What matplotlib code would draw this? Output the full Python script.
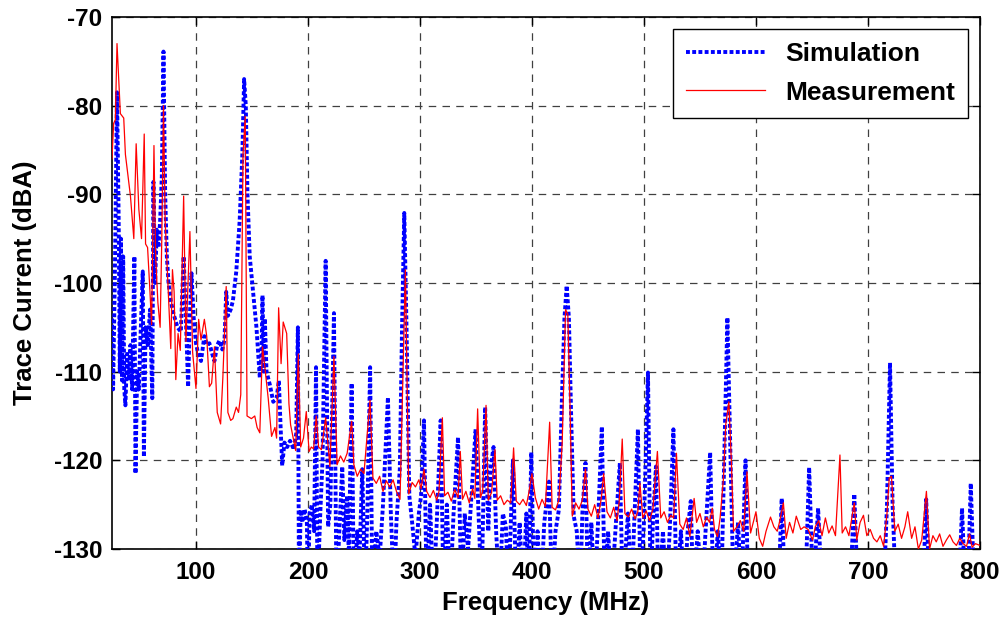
import numpy as np
import matplotlib
matplotlib.use("Agg")
import matplotlib.pyplot as plt

# simulation trace (MHz, dBA) - values below -130 are clipped by the axis
sim_f = [25, 26, 27.5, 29.5, 30.5, 31, 32, 33, 34, 35, 36, 37, 38.5, 40, 41.5, 43, 45, 46,
         47.5, 49, 50.5, 52.5, 53.5, 55, 57, 59, 61, 62, 63.5, 65, 66.5, 68, 69.5, 71, 72.5,
         74, 75.5, 77.5, 80, 83.5, 86.5, 89, 91, 93, 94.5, 96, 98, 100, 102, 104.5, 107.5,
         110, 112, 114.5, 116.5, 119, 121, 123.5, 125.5, 127, 128.5, 131, 133, 136, 139,
         141.4, 143, 144.5, 146, 148, 151, 154, 157, 158.5, 159.4, 160.5, 161.5, 163, 166,
         169, 172, 174, 175.5, 177, 179, 181.5, 184, 187.5, 189.5, 191, 192, 193.5, 195,
         197, 199, 200, 201.5, 203.5, 205.5, 207.2, 208.5, 211, 213, 215.8, 218, 220, 223.2,
         225.5, 228, 230.6, 232.5, 235, 236.5, 239, 241, 244, 246, 248.5, 251, 253, 255.5,
         257.5, 261, 264, 267, 271.4, 274, 276.8, 279, 282, 284, 286, 288, 290.5, 293, 296,
         299, 301, 303.6, 306, 309, 312, 315, 318.5, 321, 324, 327, 330, 334, 337, 340, 343,
         346, 349.7, 352, 355, 358.2, 361, 363, 365.7, 368, 371, 374, 376.7, 379, 383, 386,
         389, 392, 395, 397, 399.4, 402, 405, 408, 411, 415.2, 418, 421, 424, 427, 429, 431,
         433, 435, 437.3, 440, 443, 445, 447.8, 450, 453, 456, 459, 462.4, 465, 468, 471,
         475, 478.5, 481, 485.7, 489, 491, 494.6, 497, 500, 503.6, 506, 508, 510.7, 513, 517,
         520, 523, 526.3, 529, 533, 536, 539, 541.8, 544, 548, 552, 555, 559.1, 562, 566,
         569, 572, 574.5, 577, 580, 584, 587, 590.7, 593, 597, 620, 623, 626, 644, 647.5,
         651, 655.5, 659, 684, 687.8, 691, 714, 717, 719.7, 722, 725, 749, 752, 755, 781, 784,
         787, 789, 791.8, 795, 800]
sim_v = [-104, -112, -100, -78.5, -88, -93, -110, -95, -111, -97, -112, -113.8, -108, -111,
         -107, -112, -97, -121.5, -110, -112, -106, -98.7, -119.6, -105, -107, -103, -113,
         -88.6, -100, -94, -96, -93, -88, -73.9, -90, -97, -100, -102, -103.5, -105, -105.5,
         -97, -104, -111.7, -104, -98.9, -104, -106.8, -108, -108.8, -106, -107, -106.8, -108,
         -108.8, -107, -106.5, -107.5, -106.4, -101, -103.7, -103, -102, -98.7, -93, -85.5,
         -77, -80, -90, -97, -101, -105, -110.7, -108, -101.4, -110, -104, -110, -111.5,
         -113.4, -113, -111, -116, -120.6, -118, -118.5, -117.8, -118.8, -117, -105, -135,
         -125.6, -127, -125.5, -126.8, -135, -126, -125, -128, -109.5, -135, -126, -120,
         -97.5, -127.5, -125, -103.4, -135, -128, -120.7, -129, -124, -131, -111.3, -135,
         -128, -131, -121, -135, -126, -109.5, -135, -128, -131, -125, -112.9, -126, -135,
         -127, -121, -105, -92.1, -105, -124, -127, -131, -126, -124, -115.5, -135, -125,
         -135, -127, -115.5, -135, -125, -135, -126, -117.4, -135, -126, -130, -124, -116.5,
         -125, -135, -114, -128, -121, -118.5, -128, -135, -126, -127.4, -135, -120, -135,
         -127, -135, -126, -135, -119.1, -135, -128, -135, -127, -122.4, -135, -128, -125.6,
         -112, -104, -100.3, -104, -115, -126.3, -128, -135, -126, -120.3, -135, -127, -135,
         -127, -116.2, -135, -128, -135, -127, -120.3, -135, -126, -135, -128, -116.5, -135,
         -127, -110.1, -135, -127, -120.7, -135, -128, -135, -128, -116.5, -135, -128, -135,
         -128, -124.6, -135, -128, -135, -128, -119.1, -135, -128, -135, -118, -103.9, -118,
         -135, -127, -135, -120, -135, -135, -135, -124.3, -135, -135, -120.8, -135, -125.4,
         -135, -135, -123.8, -135, -135, -125, -109, -125, -135, -135, -124.4, -135, -135,
         -125.4, -135, -135, -122.6, -135, -135]

# measured trace (MHz, dBA)
meas_f = [25, 26.5, 28, 29.5, 32.5, 35.5, 37, 41.5, 44.5, 46.6, 49, 51.4, 53.8, 55, 56.8,
          58.6, 60.4, 62.5, 64, 66, 68, 69.5, 71, 72.5, 75.4, 77.5, 79, 80.5, 82, 84, 86, 89,
          91, 94.6, 97, 100, 102.4, 104.5, 107.5, 109.6, 112, 114, 116.5, 119, 122, 124, 127,
          128.5, 131, 133, 136, 138, 140, 142, 144, 145.6, 149.5, 152.5, 154.6, 157, 159.4,
          161.5, 164.5, 167.5, 170.5, 172, 173.8, 176, 177.9, 181, 183, 184.5, 189, 191.4,
          193.5, 196, 198.5, 201, 203, 205, 207.4, 209.5, 212, 215.8, 219.6, 223.2, 226, 229,
          232, 235, 239, 241, 244, 247, 250, 255.4, 258, 261, 264, 267, 270, 273, 276, 279,
          282.2, 287, 290, 293, 296, 299, 301, 303.6, 306, 309, 312, 315, 317, 320, 322, 325,
          328, 331, 334, 336, 338, 341, 344, 347, 349, 351.5, 354, 356, 359, 361, 364, 367,
          369, 372, 375, 378, 381, 383.6, 386, 389, 392, 395, 397, 400, 403, 406, 409, 412,
          415.8, 418, 421, 424, 427, 430, 432, 434, 436, 439, 442, 445, 447.8, 450, 453, 456,
          459, 462, 464, 467, 470, 473, 476, 478, 480.6, 483, 486, 489, 492, 494.5, 496.4,
          499, 502, 505, 508, 512, 515, 518, 521, 524, 526.5, 529, 532, 535, 538, 541, 544.8,
          547, 550, 553, 556, 558.5, 561, 563, 565.7, 568, 571, 573, 575.8, 578, 580, 583,
          586, 589, 592, 595.2, 598, 600, 603, 606, 609, 613, 616, 619, 621, 624.5, 627, 630,
          633, 636, 640, 643, 646.6, 650.5, 653, 656, 659, 662, 665, 668, 671, 675, 677, 680,
          683, 687.8, 690, 693, 696, 699, 702, 705, 708, 711, 714, 717, 719, 721, 724, 727,
          730, 733, 735.5, 739, 742, 745, 748, 752.2, 755, 758, 761, 764, 767, 770, 773, 776,
          779, 782, 785, 788, 790.7, 793, 796, 800]
meas_v = [-86, -82, -81.6, -73, -80.9, -81.4, -85.5, -90.2, -95, -84.3, -91.7, -95, -83.2,
          -95.6, -96, -100.2, -104.7, -84.5, -97.1, -102.2, -105, -95, -80, -93, -101.4,
          -107.4, -98.5, -101, -110.9, -105.7, -107.6, -90.2, -106.6, -94.2, -107.8, -111.9,
          -104.1, -106.4, -104.1, -106, -111.7, -111.3, -107.2, -114.6, -115.9, -110.7,
          -100.4, -114.6, -115.5, -115.3, -114, -114.6, -112.6, -85.5, -81.2, -115, -115.3,
          -115, -116.3, -116.9, -107.2, -109.5, -113, -117.3, -116.3, -117.5, -102.8, -109.1,
          -104.4, -105.7, -113.6, -116, -118.9, -108, -118.5, -117.5, -114.5, -119, -118.5,
          -118.7, -115, -118.5, -118.8, -115.2, -120.7, -108.3, -120.5, -119.5, -120.2,
          -119.2, -115.6, -120.5, -121.8, -121, -121.5, -113.2, -122, -122.6, -121.8, -123.5,
          -122.3, -123, -122.2, -123.5, -124.4, -98.5, -123.8, -122.5, -123, -122.2, -123.2,
          -121, -123.5, -124.2, -123.4, -124.5, -123.5, -115.2, -124, -123.6, -124.6, -123.3,
          -124.2, -119, -124.4, -123.5, -124.8, -123.2, -124.3, -114.2, -124.2, -123.5,
          -113.8, -124.5, -123.6, -118.8, -124.5, -124, -125, -124.5, -124.8, -118.6, -124.6,
          -125, -124.4, -125.1, -123.8, -121.5, -124.2, -125.5, -124.4, -125.2, -115.7,
          -125.3, -125.6, -124.5, -118, -103, -103.5, -114, -126.3, -124.8, -125.5, -124.5,
          -121, -125.5, -126.3, -125, -126.5, -124.2, -121.5, -125.8, -126.5, -125.3, -126.8,
          -124.5, -117.6, -126, -126.4, -125.5, -126.6, -125.8, -122.6, -126.5, -125.7,
          -126.8, -125.5, -119, -126.5, -125.8, -127, -126.2, -126.5, -119.2, -127.2, -127.8,
          -126.5, -128.6, -124.3, -127, -126, -127.5, -126.4, -127, -125.4, -127.8, -128.6,
          -126.5, -122, -116, -113.4, -120, -128, -127.5, -126.8, -128, -121.3, -128.2,
          -126.8, -125.8, -128.8, -129.7, -128, -126.4, -127.5, -128, -127, -124.8, -128.8,
          -127, -128.2, -126.3, -127.8, -127.5, -127.8, -129, -127.5, -126.8, -128.5, -126.5,
          -128.2, -127.4, -128.5, -119.4, -128.2, -127.5, -128.5, -124.8, -129, -127, -126.2,
          -128.5, -127.8, -128.8, -129.2, -128.5, -129.7, -126, -122, -121.8, -128, -127.2,
          -128.8, -127.5, -125.8, -128.8, -127.5, -130, -129, -123.5, -130, -128.5, -129.2,
          -128.3, -129.7, -129, -128.4, -129.2, -129.6, -128.8, -129.4, -129.7, -128.3,
          -129.8, -129.4, -129.6]

x_ticks = [100, 200, 300, 400, 500, 600, 700, 800]
y_ticks = [-130, -120, -110, -100, -90, -80, -70]

plt.rcParams['font.family'] = ['Liberation Sans', 'DejaVu Sans']
plt.rcParams['font.weight'] = 'bold'
plt.rcParams['axes.unicode_minus'] = False

fig = plt.figure(figsize=(10.06, 6.22), dpi=100)
ax = fig.add_axes([0.1113, 0.1174, 0.8628, 0.8553])

ax.plot(sim_f, sim_v, color='#0000ff', linewidth=2.8, linestyle=(0, (1, 0.6)),
        label='Simulation', zorder=3)
ax.plot(meas_f, meas_v, color='#ff0000', linewidth=0.9, label='Measurement', zorder=4)

ax.set_xlim(25, 800)
ax.set_ylim(-130, -70)
ax.set_xticks(x_ticks)
ax.set_yticks(y_ticks)
ax.grid(True, color='0.25', linestyle=(0, (6, 5)), linewidth=0.9)
ax.tick_params(direction='in', top=True, right=True, labelsize=17.5, length=6, width=1)
ax.tick_params(axis='y', pad=7)
ax.tick_params(axis='x', pad=9)
for lab in ax.get_xticklabels() + ax.get_yticklabels():
    lab.set_fontweight('bold')
for s in ax.spines.values():
    s.set_linewidth(1.2)

ax.set_xlabel('Frequency (MHz)', fontsize=18.5, fontweight='bold', labelpad=5)
ax.set_ylabel('Trace Current (dBA)', fontsize=18.5, fontweight='bold', labelpad=12)

leg = ax.legend(loc='upper right', fontsize=19, frameon=True, fancybox=False,
                edgecolor='black', framealpha=1, borderaxespad=0.45, handlelength=3.0,
                handletextpad=0.75, borderpad=0.5, labelspacing=0.55)
leg.get_frame().set_linewidth(1.0)
for t in leg.get_texts():
    t.set_fontweight('bold')

fig.savefig('out.png', dpi=100)
